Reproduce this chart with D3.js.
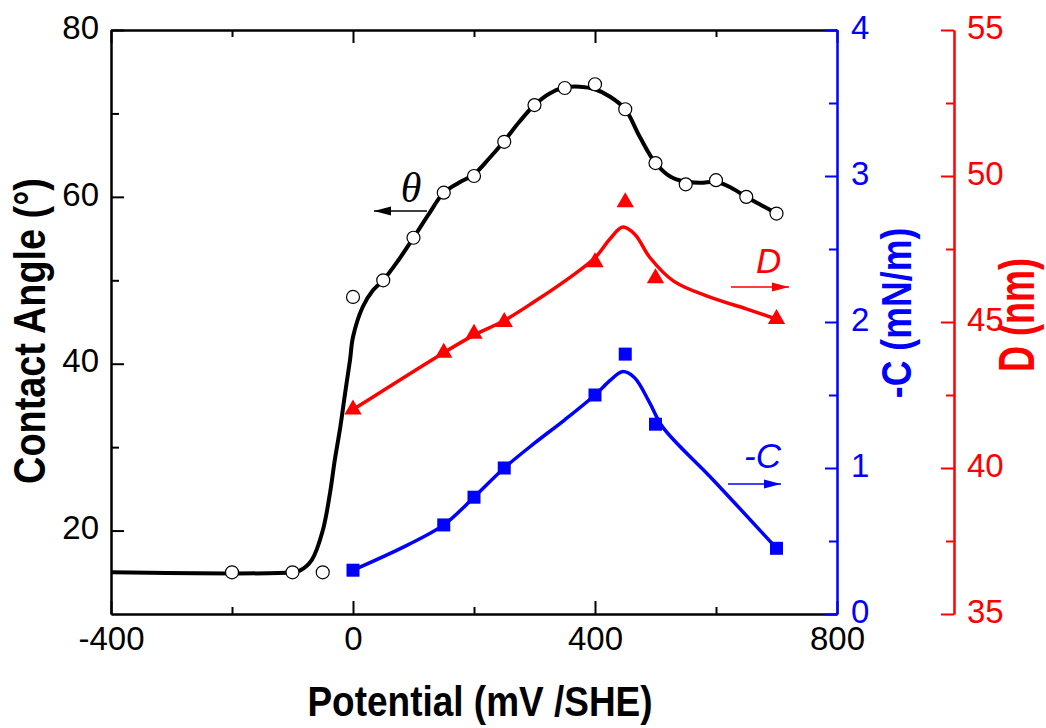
<!DOCTYPE html>
<html>
<head>
<meta charset="utf-8">
<script src="https://cdn.jsdelivr.net/npm/d3@7"></script>
<style>
  body { margin: 0; background: #fff; }
  svg { display: block; }
</style>
</head>
<body>
<script>
// contact angle measurements (open circles)
const thetaPotential = [-200, -100, -50, 0, 50, 100, 150, 200, 250, 300, 350, 400, 450, 500, 550, 600, 650, 700];
const thetaValues = [15, 15, 15, 48, 50, 55.1, 60.5, 62.5, 66.6, 71, 73.05, 73.5, 70.5, 64.05, 61.5, 62, 60, 58];

// smooth guide line through contact angle
const thetaLinePotential = [-400, -100, -88, -68, -50, -38, -30, -21, -13, -5, 0, 16, 33, 50, 75, 100, 125, 150, 175, 200, 225, 250, 275, 300, 325, 350, 375, 400, 425, 450, 474, 500, 525, 550, 575, 600, 625, 650, 675, 700];
const thetaLineValues = [15, 15, 15.2, 16.5, 20, 24.5, 28.5, 32.4, 36.5, 40.4, 43.2, 46.8, 48.8, 50, 52.4, 55.1, 57.9, 60.5, 61.7, 62.7, 64.6, 66.7, 69, 71, 72.4, 73.1, 73.2, 72.9, 72, 70.5, 67.2, 64.05, 62.4, 61.8, 61.7, 61.8, 61.1, 60, 59, 58];

// D (nm), red triangles
const dPotential = [0, 150, 200, 250, 400, 450, 500, 700];
const dValues = [42.0, 43.95, 44.6, 45.0, 47.05, 49.1, 46.5, 45.1];
const dLinePotential = [0, 150, 200, 250, 300, 350, 400, 425, 446, 466, 491, 530, 590, 650, 700];
const dLineValues = [42.0, 43.95, 44.55, 45.05, 45.7, 46.4, 47.2, 47.85, 48.25, 48.0, 47.2, 46.4, 45.85, 45.45, 45.1];

// -C (mN/m), blue squares
const cPotential = [0, 150, 200, 250, 400, 450, 500, 700];
const cValues = [0.30, 0.61, 0.80, 1.0, 1.5, 1.78, 1.30, 0.45];
const cLinePotential = [0, 89, 150, 200, 250, 300, 350, 400, 425, 445, 465, 490, 512, 595, 700];
const cLineValues = [0.30, 0.47, 0.61, 0.80, 1.0, 1.17, 1.33, 1.50, 1.60, 1.66, 1.62, 1.45, 1.28, 0.92, 0.45];

// ticks
const xMajor = [-400, 0, 400, 800];
const xMinor = [-200, 200, 600];
const thetaMajor = [20, 40, 60, 80];
const thetaMinor = [30, 50, 70];
const cMajor = [0, 1, 2, 3, 4];
const cMinor = [0.5, 1.5, 2.5, 3.5];
const dMajor = [35, 40, 45, 50, 55];
const dMinor = [37.5, 42.5, 47.5, 52.5];

const W = 1046, H = 728;
const plot = { left: 111, right: 837, top: 30, bottom: 614 };
const dAxisX = 954;
const RED = "#ff0000", BLUE = "#0000ff";
const SANS = "'Liberation Sans', Arial, sans-serif";
const SERIF = "'Liberation Serif', 'Times New Roman', serif";

const svg = d3.select("body").append("svg").attr("width", W).attr("height", H)
  .style("font-family", SANS);

const x = d3.scaleLinear().domain([-400, 800]).range([plot.left, plot.right]);
const yT = d3.scaleLinear().domain([10, 80]).range([plot.bottom, plot.top]);
const yC = d3.scaleLinear().domain([0, 4]).range([plot.bottom, plot.top]);
const yD = d3.scaleLinear().domain([35, 55]).range([plot.bottom, plot.top]);

// plain hyphen-minus labels like the original
const plain = (d) => String(d);

const styleAxis = (g, color, vertical) => {
  g.attr("font-family", null).attr("font-size", null);
  g.selectAll("path, line").attr("stroke", color).attr("stroke-width", 2);
  const t = g.selectAll("text").attr("fill", color).style("font-size", "33px").style("font-family", SANS);
  if (vertical) t.attr("dy", "0.25em");
};

// bottom axis
svg.append("g").attr("transform", `translate(0,${plot.bottom})`)
  .call(d3.axisBottom(x).tickValues(xMajor).tickSize(-13).tickSizeOuter(0).tickPadding(13).tickFormat(plain))
  .call((g) => styleAxis(g, "#000"));
svg.append("g").attr("transform", `translate(0,${plot.bottom})`)
  .call(d3.axisBottom(x).tickValues(xMinor).tickSize(-7).tickSizeOuter(0).tickFormat(""))
  .call((g) => styleAxis(g, "#000"));

// top axis
svg.append("g").attr("transform", `translate(0,${plot.top})`)
  .call(d3.axisTop(x).tickValues(xMajor).tickSize(-13).tickSizeOuter(0).tickFormat(""))
  .call((g) => styleAxis(g, "#000"));
svg.append("g").attr("transform", `translate(0,${plot.top})`)
  .call(d3.axisTop(x).tickValues(xMinor).tickSize(-7).tickSizeOuter(0).tickFormat(""))
  .call((g) => styleAxis(g, "#000"));

// left axis
svg.append("g").attr("transform", `translate(${plot.left},0)`)
  .call(d3.axisLeft(yT).tickValues(thetaMajor).tickSize(-13).tickSizeOuter(0).tickPadding(12).tickFormat(plain))
  .call((g) => styleAxis(g, "#000", true));
svg.append("g").attr("transform", `translate(${plot.left},0)`)
  .call(d3.axisLeft(yT).tickValues(thetaMinor).tickSize(-8).tickSizeOuter(0).tickFormat(""))
  .call((g) => styleAxis(g, "#000"));

// -C axis (blue)
svg.append("g").attr("transform", `translate(${plot.right},0)`)
  .call(d3.axisRight(yC).tickValues(cMajor).tickSize(-12).tickSizeOuter(0).tickPadding(14).tickFormat(plain))
  .call((g) => styleAxis(g, BLUE, true));
svg.append("g").attr("transform", `translate(${plot.right},0)`)
  .call(d3.axisRight(yC).tickValues(cMinor).tickSize(-8).tickSizeOuter(0).tickFormat(""))
  .call((g) => styleAxis(g, BLUE));

// D axis (red)
svg.append("g").attr("transform", `translate(${dAxisX},0)`)
  .call(d3.axisRight(yD).tickValues(dMajor).tickSize(-13).tickSizeOuter(0).tickPadding(13).tickFormat(plain))
  .call((g) => styleAxis(g, RED, true));
svg.append("g").attr("transform", `translate(${dAxisX},0)`)
  .call(d3.axisRight(yD).tickValues(dMinor).tickSize(-8).tickSizeOuter(0).tickFormat(""))
  .call((g) => styleAxis(g, RED));

// axis titles
svg.append("text")
  .attr("transform", `translate(480,716) scale(0.86,1)`)
  .attr("text-anchor", "middle").attr("font-size", 43).attr("font-weight", "bold")
  .text("Potential (mV /SHE)");
svg.append("text")
  .attr("transform", `translate(45,331) rotate(-90) scale(0.86,1)`)
  .attr("text-anchor", "middle").attr("font-size", 44).attr("font-weight", "bold")
  .text("Contact Angle (°)");
svg.append("text")
  .attr("transform", `translate(911,313) rotate(-90) scale(0.85,1)`)
  .attr("text-anchor", "middle").attr("font-size", 42).attr("font-weight", "bold")
  .attr("fill", BLUE).text("-C (mN/m)");
svg.append("text")
  .attr("transform", `translate(1034,315) rotate(-90) scale(0.72,1)`)
  .attr("text-anchor", "middle").attr("font-size", 50).attr("font-weight", "bold")
  .attr("fill", RED).text("D (nm)");

// curves
const line = (ys) => d3.line()
  .x((d) => x(d[0])).y((d) => ys(d[1]))
  .curve(d3.curveCatmullRom.alpha(0.5));

svg.append("path")
  .datum(d3.zip(dLinePotential, dLineValues))
  .attr("d", line(yD)).attr("fill", "none").attr("stroke", RED).attr("stroke-width", 3.5);
svg.append("path")
  .datum(d3.zip(cLinePotential, cLineValues))
  .attr("d", line(yC)).attr("fill", "none").attr("stroke", BLUE).attr("stroke-width", 3.5);
svg.append("path")
  .datum(d3.zip(thetaLinePotential, thetaLineValues))
  .attr("d", line(yT)).attr("fill", "none").attr("stroke", "#000").attr("stroke-width", 4);

// markers
svg.append("g").selectAll("circle")
  .data(d3.zip(thetaPotential, thetaValues)).join("circle")
  .attr("cx", (d) => x(d[0])).attr("cy", (d) => yT(d[1])).attr("r", 6.5)
  .attr("fill", "#fff").attr("stroke", "#000").attr("stroke-width", 1.2);

const tri = d3.symbol().type(d3.symbolTriangle).size(130);
svg.append("g").selectAll("path")
  .data(d3.zip(dPotential, dValues)).join("path")
  .attr("d", tri)
  .attr("transform", (d) => `translate(${x(d[0])},${yD(d[1])})`)
  .attr("fill", RED);

svg.append("g").selectAll("rect")
  .data(d3.zip(cPotential, cValues)).join("rect")
  .attr("x", (d) => x(d[0]) - 6.5).attr("y", (d) => yC(d[1]) - 6.5)
  .attr("width", 13).attr("height", 13)
  .attr("fill", BLUE);

// annotations with arrows
const arrow = (x1, x2, y, color) => {
  svg.append("line").attr("x1", x1).attr("x2", x2).attr("y1", y).attr("y2", y)
    .attr("stroke", color).attr("stroke-width", 1.5);
  const dir = x2 > x1 ? 1 : -1;
  svg.append("path")
    .attr("d", d3.line()([[x2, y], [x2 - dir * 17, y - 4.5], [x2 - dir * 17, y + 4.5]]) + "Z")
    .attr("fill", color);
};

svg.append("text").attr("x", 411).attr("y", 202).attr("text-anchor", "middle")
  .style("font-family", SERIF)
  .attr("font-style", "italic").attr("font-size", 42).text("θ");
arrow(427, 374, 211, "#000");

svg.append("text").attr("x", 756).attr("y", 273)
  .attr("font-style", "italic").attr("font-size", 35).attr("fill", RED).text("D");
arrow(731, 789, 287, RED);

svg.append("text").attr("x", 744).attr("y", 468)
  .attr("font-style", "italic").attr("font-size", 35).attr("fill", BLUE).text("-C");
arrow(728, 781, 484, BLUE);
</script>
</body>
</html>
